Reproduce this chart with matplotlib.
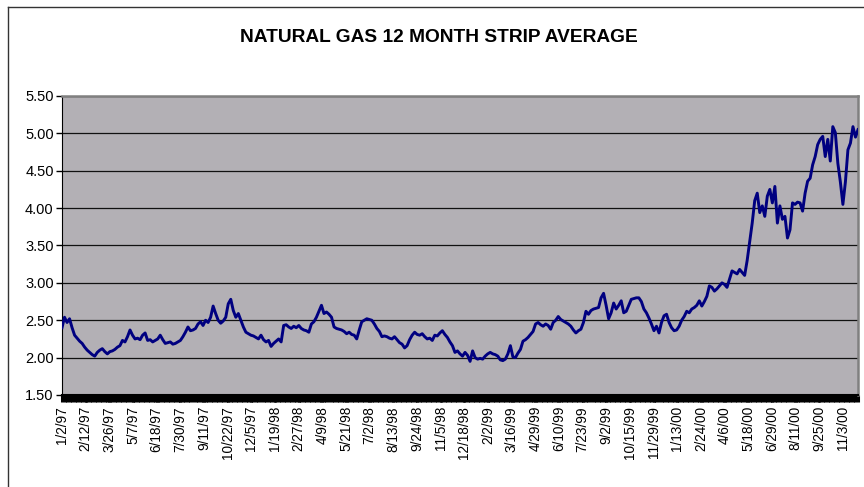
import matplotlib
matplotlib.use("Agg")
import matplotlib.pyplot as plt
from matplotlib.lines import Line2D

plt.rcParams['font.family'] = ['Liberation Sans', 'DejaVu Sans']

# 12 month strip average, sampled every ~3 trading days
strip = [
    2.40, 2.54, 2.47, 2.52, 2.40, 2.30, 2.26, 2.22, 2.19, 2.14,
    2.10, 2.07, 2.04, 2.02, 2.07, 2.10, 2.12, 2.08, 2.05, 2.08,
    2.09, 2.11, 2.14, 2.16, 2.23, 2.21, 2.28, 2.37, 2.30, 2.25,
    2.26, 2.24, 2.30, 2.33, 2.23, 2.24, 2.21, 2.23, 2.25, 2.30,
    2.24, 2.19, 2.20, 2.21, 2.18, 2.19, 2.21, 2.23, 2.28, 2.34,
    2.41, 2.36, 2.37, 2.39, 2.45, 2.48, 2.43, 2.50, 2.47, 2.54,
    2.69, 2.59, 2.50, 2.46, 2.49, 2.54, 2.72, 2.78, 2.63, 2.54,
    2.59, 2.50, 2.41, 2.34, 2.32, 2.30, 2.29, 2.27, 2.25, 2.30,
    2.24, 2.21, 2.23, 2.15, 2.19, 2.22, 2.25, 2.21, 2.43, 2.44,
    2.41, 2.39, 2.42, 2.40, 2.43, 2.39, 2.37, 2.36, 2.34, 2.45,
    2.48, 2.54, 2.62, 2.70, 2.59, 2.61, 2.58, 2.54, 2.41, 2.39,
    2.38, 2.37, 2.35, 2.32, 2.34, 2.31, 2.30, 2.25, 2.37, 2.48,
    2.50, 2.52, 2.51, 2.50, 2.45, 2.39, 2.35, 2.28, 2.29, 2.28,
    2.26, 2.25, 2.28, 2.24, 2.20, 2.18, 2.13, 2.16, 2.24, 2.30,
    2.34, 2.31, 2.30, 2.32, 2.28, 2.25, 2.26, 2.23, 2.30, 2.29,
    2.33, 2.36, 2.31, 2.27, 2.21, 2.16, 2.07, 2.09, 2.05, 2.02,
    2.07, 2.03, 1.95, 2.09, 2.00, 1.98, 1.99, 1.98, 2.02, 2.05,
    2.07, 2.05, 2.04, 2.02, 1.97, 1.96, 1.98, 2.05, 2.16, 2.01,
    2.00, 2.06, 2.11, 2.22, 2.24, 2.27, 2.31, 2.35, 2.45, 2.47,
    2.44, 2.42, 2.45, 2.43, 2.38, 2.47, 2.50, 2.55, 2.51, 2.49,
    2.47, 2.45, 2.42, 2.37, 2.33, 2.36, 2.38, 2.47, 2.62, 2.58,
    2.63, 2.65, 2.66, 2.67, 2.80, 2.86, 2.70, 2.52, 2.60, 2.73,
    2.65, 2.70, 2.76, 2.60, 2.62, 2.70, 2.78, 2.79, 2.80, 2.80,
    2.75, 2.65, 2.60, 2.53, 2.45, 2.36, 2.42, 2.33, 2.47, 2.56,
    2.58, 2.47, 2.40, 2.36, 2.37, 2.42, 2.50, 2.55, 2.62, 2.60,
    2.65, 2.67, 2.70, 2.76, 2.69, 2.75, 2.82, 2.96, 2.94, 2.89,
    2.92, 2.96, 3.00, 2.98, 2.94, 3.05, 3.16, 3.14, 3.12, 3.18,
    3.14, 3.10, 3.30, 3.55, 3.80, 4.10, 4.20, 3.94, 4.03, 3.89,
    4.16, 4.25, 4.07, 4.29, 3.80, 4.03, 3.85, 3.89, 3.60, 3.71,
    4.07, 4.05, 4.08, 4.07, 3.96, 4.20, 4.36, 4.40, 4.58, 4.69,
    4.85, 4.92, 4.96, 4.69, 4.92, 4.63, 5.09, 5.01, 4.60, 4.35,
    4.05, 4.35, 4.78, 4.87, 5.09, 4.95, 5.05,
]

date_labels = [
    "1/2/97", "2/12/97", "3/26/97", "5/7/97", "6/18/97", "7/30/97", "9/11/97",
    "10/22/97", "12/5/97", "1/19/98", "2/27/98", "4/9/98", "5/21/98", "7/2/98",
    "8/13/98", "9/24/98", "11/5/98", "12/18/98", "2/2/99", "3/16/99", "4/29/99",
    "6/10/99", "7/23/99", "9/2/99", "10/15/99", "11/29/99", "1/13/00", "2/24/00",
    "4/6/00", "5/18/00", "6/29/00", "8/11/00", "9/25/00", "11/3/00",
]
last_label_idx = 310  # sample index where 11/3/00 falls

y_ticks = [1.5, 2.0, 2.5, 3.0, 3.5, 4.0, 4.5, 5.0, 5.5]

fig = plt.figure(figsize=(8.64, 4.87), dpi=100)
ax = fig.add_axes([62/864, 1 - 395/487, 796/864, 299/487])

x = list(range(len(strip)))
ax.plot(x, strip, color='#000080', lw=2.1, zorder=3)

ax.set_facecolor('#b3b0b5')
ax.set_ylim(1.5, 5.5)
ax.set_xlim(0, len(strip) - 1)
ax.set_yticks(y_ticks)
ax.set_yticklabels(["%.2f" % v for v in y_ticks], fontsize=10.5)
ax.grid(axis='y', color='#111111', lw=0.9)
ax.set_axisbelow(True)

step = last_label_idx / (len(date_labels) - 1)
ax.set_xticks([k * step for k in range(len(date_labels))])
ax.set_xticklabels(date_labels, rotation=90, fontsize=9.8, va='top')
ax.set_xticks(x, minor=True)
ax.tick_params(axis='x', which='both', length=5, width=2.2, color='black', pad=3)
ax.tick_params(axis='y', length=4, width=1, pad=2)

for s in ['top', 'right']:
    ax.spines[s].set_color('#808080')
    ax.spines[s].set_linewidth(1.8)
ax.spines['left'].set_color('black')
ax.spines['bottom'].set_color('black')
ax.spines['bottom'].set_linewidth(1.5)

fig.text(439/864, 1 - 38/487, "NATURAL GAS 12 MONTH STRIP AVERAGE",
         ha='center', va='center', fontsize=13.8, fontweight='bold')

# chart area border (left and top edges visible)
fig.add_artist(Line2D([8/864, 8/864], [0, 1 - 7/487], color='#333333', lw=1,
                      transform=fig.transFigure))
fig.add_artist(Line2D([8/864, 1], [1 - 7/487, 1 - 7/487], color='#333333', lw=1,
                      transform=fig.transFigure))

fig.savefig("out.png", dpi=100)
